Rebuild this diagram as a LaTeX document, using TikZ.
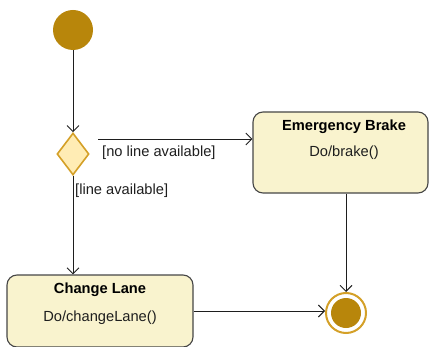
\documentclass[tikz,border=0pt]{standalone}
\usepackage{fontspec}
\setmainfont{Liberation Sans}
\usetikzlibrary{shapes.geometric,arrows.meta}
\definecolor{nodegold}{RGB}{184,134,11}
\definecolor{ringgold}{RGB}{212,160,40}
\definecolor{choicefill}{RGB}{255,236,180}
\definecolor{statefill}{RGB}{249,243,206}
\definecolor{edgegray}{RGB}{70,70,70}
\definecolor{inkdark}{RGB}{30,30,30}
\tikzset{
  every node/.style={font=\fontsize{14.67}{17}\selectfont, text=inkdark},
  initstate/.style={circle, fill=nodegold, draw=none, minimum size=40pt, inner sep=0pt},
  choice/.style={diamond, draw=ringgold, line width=1.6pt, fill=choicefill,
    minimum width=32pt, minimum height=42pt, inner sep=0pt},
  statebox/.style={rectangle, rounded corners=10pt, draw=edgegray, line width=1.1pt,
    fill=statefill, inner sep=0pt},
  finalring/.style={circle, draw=ringgold, line width=2pt, fill=white,
    minimum size=40pt, inner sep=0pt},
  finaldot/.style={circle, fill=nodegold, minimum size=30pt, inner sep=0pt},
  flow/.style={draw=inkdark, line width=0.9pt,
    -{Straight Barb[length=6pt,width=12pt,line width=0.9pt]}},
  guard/.style={anchor=west, inner sep=0pt},
  title/.style={font=\fontsize{14.67}{17}\selectfont\bfseries, text=black, inner sep=0pt},
  activity/.style={inner sep=0pt}
}
\begin{document}
\begin{tikzpicture}[x=1pt,y=-1pt]
  \useasboundingbox (0,0) rectangle (430,347);

  % states
  \node[initstate] (start) at (73,30) {};
  \node[choice] (dec) at (73,154) {};
  \node[statebox, minimum width=175pt, minimum height=81pt] (eb) at (340.5,152.5) {};
  \node[title] (ebtitle) at (344,127) {Emergency Brake};
  \node[activity] (ebdo) at (344,153) {Do/brake()};
  \node[statebox, minimum width=186pt, minimum height=72pt] (cl) at (100,311) {};
  \node[title] (cltitle) at (100,290) {Change Lane};
  \node[activity] (cldo) at (100,318) {Do/changeLane()};
  \node[finalring] (final) at (346,313) {};
  \node[finaldot] (finaldot) at (final) {};

  % transitions
  \coordinate (gout) at (98,139);
  \draw[flow] (start) -- (dec.north);
  \draw[flow] (gout) -- (gout -| eb.west);
  \draw[flow] (dec.south) -- (dec.south |- cl.north);
  \draw[flow] (final |- eb.south) -- (final.north);
  \draw[flow] (cl.east) -- (cl.east -| final.west);

  % guards
  \node[guard] (g1) at (102,153) {[no line available]};
  \node[guard] (g2) at (75,191) {[line available]};
\end{tikzpicture}
\end{document}
